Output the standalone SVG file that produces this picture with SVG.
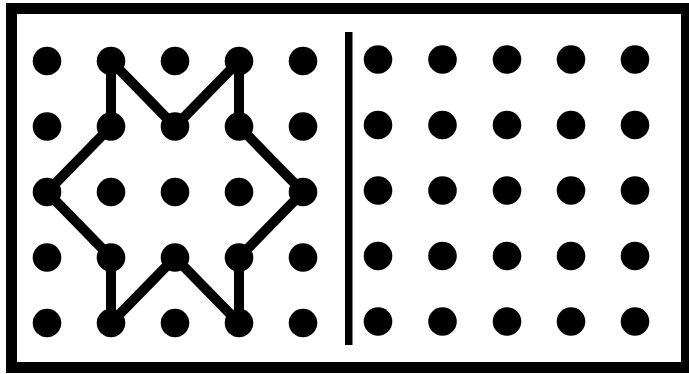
<svg xmlns="http://www.w3.org/2000/svg" width="689" height="374" viewBox="0 0 689 374">
<style>
.dot{fill:#000}
.frame{fill:none;stroke:#000;stroke-width:11}
.shape{fill:none;stroke:#000;stroke-width:10;stroke-linejoin:miter}
</style>
<defs><circle id="d" r="14.3" class="dot"/></defs>
<rect width="689" height="374" fill="#fff"/>
<rect class="frame" x="11.5" y="8.5" width="675" height="359"/>
<rect x="345" y="32" width="7.5" height="313" fill="#000"/>
<g id="connectors">
<polygon class="shape" points="111,61 111,126.5 47,192 111,257.5 111,323 175,257.5 239,323 239,257.5 303,192 239,126.5 239,61 175,126.5"/>
</g>
<g id="left-grid">
<g id="L1"><use href="#d" x="47" y="61"/><use href="#d" x="111" y="61"/><use href="#d" x="175" y="61"/><use href="#d" x="239" y="61"/><use href="#d" x="303" y="61"/></g>
<g id="L2"><use href="#d" x="47" y="126.5"/><use href="#d" x="111" y="126.5"/><use href="#d" x="175" y="126.5"/><use href="#d" x="239" y="126.5"/><use href="#d" x="303" y="126.5"/></g>
<g id="L3"><use href="#d" x="47" y="192"/><use href="#d" x="111" y="192"/><use href="#d" x="175" y="192"/><use href="#d" x="239" y="192"/><use href="#d" x="303" y="192"/></g>
<g id="L4"><use href="#d" x="47" y="257.5"/><use href="#d" x="111" y="257.5"/><use href="#d" x="175" y="257.5"/><use href="#d" x="239" y="257.5"/><use href="#d" x="303" y="257.5"/></g>
<g id="L5"><use href="#d" x="47" y="323"/><use href="#d" x="111" y="323"/><use href="#d" x="175" y="323"/><use href="#d" x="239" y="323"/><use href="#d" x="303" y="323"/></g>
</g>
<g id="right-grid">
<g id="R1"><use href="#d" x="378" y="59.5"/><use href="#d" x="442.5" y="59.5"/><use href="#d" x="507" y="59.5"/><use href="#d" x="571" y="59.5"/><use href="#d" x="635" y="59.5"/></g>
<g id="R2"><use href="#d" x="378" y="125"/><use href="#d" x="442.5" y="125"/><use href="#d" x="507" y="125"/><use href="#d" x="571" y="125"/><use href="#d" x="635" y="125"/></g>
<g id="R3"><use href="#d" x="378" y="190.5"/><use href="#d" x="442.5" y="190.5"/><use href="#d" x="507" y="190.5"/><use href="#d" x="571" y="190.5"/><use href="#d" x="635" y="190.5"/></g>
<g id="R4"><use href="#d" x="378" y="256"/><use href="#d" x="442.5" y="256"/><use href="#d" x="507" y="256"/><use href="#d" x="571" y="256"/><use href="#d" x="635" y="256"/></g>
<g id="R5"><use href="#d" x="378" y="321.5"/><use href="#d" x="442.5" y="321.5"/><use href="#d" x="507" y="321.5"/><use href="#d" x="571" y="321.5"/><use href="#d" x="635" y="321.5"/></g>
</g>
</svg>
